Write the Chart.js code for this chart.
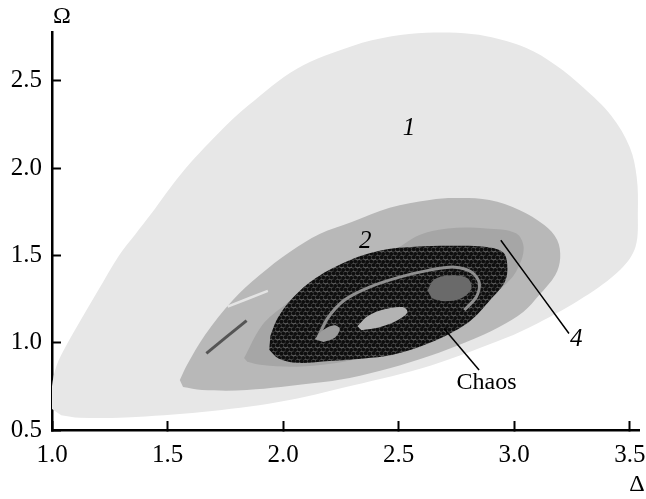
<!DOCTYPE html>
<html>
<head>
<meta charset="utf-8">
<script src="https://cdn.jsdelivr.net/npm/chart.js@4.4.1/dist/chart.umd.min.js"></script>
<style>
  html, body { margin: 0; padding: 0; background: #fff; }
  #grafico { display: block; }
</style>
</head>
<body>
<canvas id="grafico" width="646" height="499"></canvas>
<script>
// Diagrama de regimes no plano (Δ, Ω) — regiões 1, 2, 4 e caos

const TICKS_X = [1.0, 1.5, 2.0, 2.5, 3.0, 3.5];
const TICKS_Y = [0.5, 1.0, 1.5, 2.0, 2.5];

const REGIAO_1 = [
  [1.0, 0.62], [1.0, 0.75], [1.02, 0.87], [1.06, 0.98], [1.12, 1.12], [1.2, 1.3],
  [1.29, 1.5], [1.36, 1.62], [1.43, 1.74], [1.56, 1.97], [1.72, 2.2], [1.85, 2.36],
  [2.06, 2.57], [2.3, 2.7], [2.47, 2.755], [2.62, 2.775], [2.75, 2.775], [2.88, 2.755],
  [3.05, 2.69], [3.18, 2.59], [3.3, 2.46], [3.42, 2.3], [3.5, 2.12], [3.53, 1.95],
  [3.535, 1.75], [3.525, 1.55], [3.46, 1.42], [3.3, 1.26], [3.1, 1.11], [2.96, 1.025],
  [2.64, 0.87], [2.3, 0.755], [1.98, 0.66], [1.65, 0.603], [1.32, 0.572], [1.12, 0.57],
  [1.04, 0.585]
];
const REGIAO_2 = [
  [1.553, 0.786], [1.584, 0.872], [1.662, 1.044], [1.783, 1.245], [1.899, 1.388],
  [2.029, 1.52], [2.158, 1.623], [2.297, 1.692], [2.461, 1.773], [2.634, 1.818],
  [2.742, 1.829], [2.893, 1.818], [3.022, 1.761], [3.13, 1.674], [3.186, 1.588],
  [3.199, 1.485], [3.178, 1.388], [3.108, 1.273], [3.039, 1.176], [2.935, 1.09],
  [2.793, 1.004], [2.633, 0.924], [2.465, 0.855], [2.288, 0.798], [2.137, 0.769],
  [1.843, 0.729], [1.649, 0.729], [1.567, 0.746]
];
const REGIAO_4 = [
  [1.831, 0.912], [1.91, 1.101], [2.007, 1.216], [2.139, 1.349], [2.304, 1.445],
  [2.467, 1.521], [2.59, 1.617], [2.713, 1.655], [2.877, 1.655], [3.008, 1.627],
  [3.041, 1.541], [3.008, 1.407], [2.943, 1.312], [2.844, 1.216], [2.713, 1.12],
  [2.549, 1.006], [2.386, 0.93], [2.222, 0.882], [2.058, 0.863], [1.91, 0.872],
  [1.845, 0.891]
];
const CAOS = [
  [1.94, 0.96], [1.98, 0.91], [2.06, 0.885], [2.2, 0.895], [2.35, 0.91], [2.47, 0.93],
  [2.635, 1.0], [2.8, 1.115], [2.9, 1.25], [2.96, 1.35], [2.97, 1.45], [2.95, 1.52],
  [2.87, 1.55], [2.72, 1.555], [2.57, 1.55], [2.45, 1.535], [2.3, 1.48], [2.14, 1.37],
  [2.04, 1.255], [1.976, 1.14], [1.945, 1.04]
];
const ANEL_CAOS = [
  [2.15, 1.027], [2.193, 1.141], [2.266, 1.245], [2.374, 1.319], [2.504, 1.376],
  [2.634, 1.416], [2.742, 1.433], [2.815, 1.405], [2.849, 1.342], [2.836, 1.262],
  [2.784, 1.187]
];
const ILHA_CLARA = [
  [2.322, 1.095], [2.365, 1.152], [2.439, 1.192], [2.517, 1.204], [2.538, 1.175],
  [2.495, 1.129], [2.417, 1.089], [2.339, 1.072]
];
const ILHA_INFERIOR = [
  [2.137, 1.02], [2.17, 1.07], [2.22, 1.1], [2.245, 1.08], [2.225, 1.03], [2.175, 1.004]
];
const ILHA_ESCURA = [
  [2.625, 1.301], [2.655, 1.364], [2.728, 1.387], [2.798, 1.37], [2.815, 1.312],
  [2.772, 1.255], [2.699, 1.238], [2.643, 1.255]
];
const TRACO_ESCURO = [[1.668, 0.939], [1.842, 1.127]];
const TRACO_CLARO = [[1.76, 1.207], [1.934, 1.297]];
const SETA_CAOS = [[2.696, 1.082], [2.848, 0.844]];
const SETA_4 = [[2.942, 1.587], [3.237, 1.053]];

const ROTULOS = [
  { texto: '1', x: 2.545, y: 2.23, fonte: 'italic 25px "Liberation Serif"' },
  { texto: '2', x: 2.355, y: 1.578, fonte: 'italic 25px "Liberation Serif"' },
  { texto: '4', x: 3.268, y: 1.021, fonte: 'italic 25px "Liberation Serif"' },
  { texto: 'Chaos', x: 2.88, y: 0.773, fonte: '24px "Liberation Serif"' },
  { texto: 'Ω', x: 1.043, y: 2.865, fonte: '24px "Liberation Serif"' },
  { texto: 'Δ', x: 3.531, y: 0.185, fonte: '24px "Liberation Serif"' }
];

const pontos = (lista) => lista.map(([x, y]) => ({ x, y }));

// textura de pontinhos pretos para a região caótica
function texturaCaos() {
  const lado = 8;
  const tile = document.createElement('canvas');
  tile.width = lado;
  tile.height = lado;
  const c = tile.getContext('2d');
  c.fillStyle = '#5c5c5c';
  c.fillRect(0, 0, lado, lado);
  c.fillStyle = '#0e0e0e';
  [[1.5, 1.8], [5.6, 1.2], [3.2, 5.4], [7.1, 5.9]].forEach(([cx, cy]) => {
    for (const dx of [-lado, 0, lado]) {
      for (const dy of [-lado, 0, lado]) {
        c.beginPath();
        c.arc(cx + dx, cy + dy, 2.0, 0, Math.PI * 2);
        c.fill();
      }
    }
  });
  return c.createPattern(tile, 'repeat');
}

function poligono(lista, cor, ordem, tensao = 0.35) {
  return {
    data: pontos(lista), fill: 'shape', backgroundColor: cor,
    borderColor: 'rgba(0,0,0,0)', borderWidth: 0, pointRadius: 0, tension: tensao, order: ordem
  };
}

function linha(lista, cor, largura, ordem) {
  return {
    data: pontos(lista), fill: false, borderColor: cor, borderWidth: largura,
    pointRadius: 0, tension: 0.3, order: ordem
  };
}

const pluginRotulos = {
  id: 'rotulos',
  afterDraw(chart) {
    const { ctx, scales } = chart;
    ctx.save();
    ctx.fillStyle = '#000';
    ctx.textAlign = 'center';
    ctx.textBaseline = 'middle';
    ROTULOS.forEach((r) => {
      ctx.font = r.fonte;
      ctx.fillText(r.texto, scales.x.getPixelForValue(r.x), scales.y.getPixelForValue(r.y));
    });
    ctx.restore();
  }
};

const fonteTicks = { family: '"Liberation Serif", "Times New Roman", serif', size: 25 };

new Chart(document.getElementById('grafico'), {
  type: 'line',
  data: {
    datasets: [
      poligono(REGIAO_1, '#e7e7e7', 20),
      poligono(REGIAO_2, '#b8b8b8', 19),
      poligono(REGIAO_4, '#a6a6a6', 18),
      linha(TRACO_CLARO, '#e4e4e4', 2.5, 17),
      linha(TRACO_ESCURO, '#555555', 3, 16),
      poligono(CAOS, texturaCaos(), 15),
      linha(ANEL_CAOS, '#8f8f8f', 3, 14),
      poligono(ILHA_INFERIOR, '#9c9c9c', 13),
      poligono(ILHA_CLARA, '#b3b3b3', 12),
      poligono(ILHA_ESCURA, '#6a6a6a', 11),
      linha(SETA_CAOS, '#000', 1.5, 2),
      linha(SETA_4, '#000', 1.5, 1)
    ]
  },
  options: {
    responsive: false,
    animation: false,
    devicePixelRatio: 1,
    layout: { padding: { top: 32, right: 7, left: 0, bottom: 0 } },
    plugins: { legend: { display: false }, tooltip: { enabled: false } },
    scales: {
      x: {
        type: 'linear', min: 1.0, max: 3.54,
        afterBuildTicks: (eixo) => { eixo.ticks = TICKS_X.map((v) => ({ value: v })); },
        afterFit: (eixo) => { eixo.height = 69; eixo.paddingLeft = 0; eixo.paddingRight = 0; },
        ticks: { font: fonteTicks, color: '#000', padding: 19, maxRotation: 0, autoSkip: false, callback: (v) => v.toFixed(1) },
        grid: { drawOnChartArea: false, tickLength: -9, tickWidth: 2, tickColor: '#000' },
        border: { color: '#000', width: 2.5 }
      },
      y: {
        type: 'linear', min: 0.5, max: 2.78,
        afterBuildTicks: (eixo) => { eixo.ticks = TICKS_Y.map((v) => ({ value: v })); },
        afterFit: (eixo) => { eixo.width = 52; eixo.paddingTop = 0; eixo.paddingBottom = 0; },
        ticks: { font: fonteTicks, color: '#000', padding: 19, autoSkip: false, callback: (v) => v.toFixed(1) },
        grid: { drawOnChartArea: false, tickLength: -9, tickWidth: 2, tickColor: '#000' },
        border: { color: '#000', width: 2.5 }
      }
    }
  },
  plugins: [pluginRotulos]
});
</script>
</body>
</html>
